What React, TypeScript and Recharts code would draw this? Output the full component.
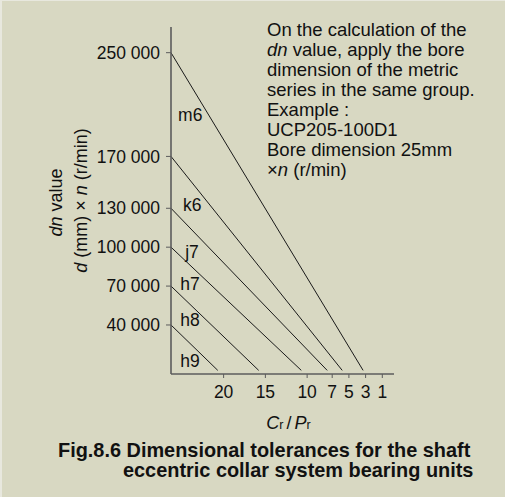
import { ComposedChart, Line, Scatter, XAxis, YAxis, Label } from 'recharts'

const crprTicks = [20, 15, 10, 7, 5, 3, 1]
const dnTicks = [250000, 170000, 130000, 100000, 70000, 40000]

// one line per shaft tolerance: dn value at the axis, down to the Cr/Pr where it runs out
const fits = ['m6', 'k6', 'j7', 'h7', 'h8', 'h9']
const startDn = [250000, 170000, 130000, 100000, 70000, 40000]
const endCrPr = [3.3, 5.8, 7.6, 10.7, 15.8, 20.7]
const leftCrPr = 26.3
const endDn = 5000

// where the fit names sit
const labelCrPr = [25.45, 24.85, 24.6, 25.2, 25.2, 25.2]
const labelDn = [197000, 128000, 92000, 67000, 39000, 7300]

const noteLines: Array<Array<[string, boolean]>> = [
  [['On the calculation of the', false]],
  [['dn', true], [' value, apply the bore', false]],
  [['dimension of the metric', false]],
  [['series in the same group.', false]],
  [['Example :', false]],
  [['UCP205-100D1', false]],
  [['Bore dimension 25mm', false]],
  [['\u00d7', false], ['n', true], [' (r/min)', false]],
]

const titleLines = ['Fig.8.6 Dimensional tolerances for the shaft', 'eccentric collar system bearing units']

const font = '"Liberation Sans", Arial, Helvetica, sans-serif'
const ink = '#111'
const axisGray = '#5c5c5c'

const series = fits.map((name, i) => ({
  name,
  data: [
    { x: leftCrPr, y: startDn[i] },
    { x: endCrPr[i], y: endDn },
  ],
}))

const labels = fits.map((name, i) => ({ name, x: labelCrPr[i], y: labelDn[i] }))

const fmtDn = (v: number) => String(v).replace(/\B(?=(\d{3})+(?!\d))/g, ' ')

function CrPrLabel(props: any) {
  const { x, y, width } = props.viewBox
  const cx = x + width / 2 + 6
  return (
    <text x={cx} y={y + 55} textAnchor="middle" fontFamily={font} fontSize={18} fill={ink}>
      <tspan fontStyle="italic">C</tspan>
      <tspan fontSize={12.5}>r</tspan>
      <tspan dx={3}>/</tspan>
      <tspan dx={3} fontStyle="italic">P</tspan>
      <tspan fontSize={12.5}>r</tspan>
    </text>
  )
}

function DnLabel(props: any) {
  const { x, y, width, height } = props.viewBox
  const axisX = x + width
  const cy = y + height / 2
  const x1 = axisX - 109
  const x2 = axisX - 84
  return (
    <g fontFamily={font} fontSize={18} fill={ink}>
      <text x={x1} y={cy + 2} textAnchor="middle" transform={`rotate(-90 ${x1} ${cy + 2})`}>
        <tspan fontStyle="italic">dn</tspan>
        <tspan> value</tspan>
      </text>
      <text x={x2} y={cy} textAnchor="middle" transform={`rotate(-90 ${x2} ${cy})`}>
        <tspan fontStyle="italic">d</tspan>
        <tspan> (mm) {'\u00d7'} </tspan>
        <tspan fontStyle="italic">n</tspan>
        <tspan> (r/min)</tspan>
      </text>
    </g>
  )
}

const FitName = (p: any) => (
  <text x={p.cx} y={p.cy} fontFamily={font} fontSize={17.5} fill={ink}>
    {p.payload.name}
  </text>
)

export default function App() {
  return (
    <div
      style={{
        position: 'fixed',
        left: 0,
        top: 0,
        width: 505,
        height: 497,
        boxSizing: 'border-box',
        background: '#d8d8c2',
        borderLeft: '2px solid #e8e8de',
        borderTop: '1px solid #e8e8de',
      }}
    >
      <div style={{ position: 'absolute', left: -2, top: -1 }}>
        <ComposedChart width={505} height={497} margin={{ top: 27, right: 111, bottom: 73, left: 111 }}>
          <XAxis
            type="number"
            dataKey="x"
            domain={[-0.4, 26.3]}
            reversed
            allowDataOverflow
            ticks={crprTicks}
            interval={0}
            height={50}
            tickSize={4}
            tickMargin={8}
            axisLine={{ stroke: axisGray, strokeWidth: 1.6 }}
            tickLine={{ stroke: axisGray }}
            tick={{ fill: ink, fontSize: 17.5, fontFamily: font }}
          >
            <Label content={CrPrLabel} />
          </XAxis>
          <YAxis
            type="number"
            dataKey="y"
            domain={[2200, 269800]}
            allowDataOverflow
            ticks={dnTicks}
            interval={0}
            width={60}
            tickSize={5}
            tickMargin={6}
            tickFormatter={fmtDn}
            axisLine={{ stroke: axisGray, strokeWidth: 1.6 }}
            tickLine={{ stroke: axisGray }}
            tick={{ fill: ink, fontSize: 17.5, fontFamily: font }}
          >
            <Label content={DnLabel} />
          </YAxis>
          {series.map((s) => (
            <Line
              key={s.name}
              data={s.data}
              dataKey="y"
              stroke="#1a1a1a"
              strokeWidth={1}
              dot={false}
              activeDot={false}
              isAnimationActive={false}
            />
          ))}
          <Scatter data={labels} dataKey="y" shape={FitName} isAnimationActive={false} />
        </ComposedChart>
      </div>
      <svg
        width={505}
        height={497}
        style={{ position: 'absolute', left: -2, top: -1, pointerEvents: 'none' }}
        fontFamily={font}
        fill={ink}
      >
        {noteLines.map((segs, i) => (
          <text key={i} x={267} y={35.7 + i * 20} fontSize={18.5}>
            {segs.map(([t, it], j) => (
              <tspan key={j} fontStyle={it ? 'italic' : 'normal'}>
                {t}
              </tspan>
            ))}
          </text>
        ))}
        <text x={58} y={457} fontSize={19.9} fontWeight="bold">
          {titleLines[0]}
        </text>
        <text x={123} y={477} fontSize={19.9} fontWeight="bold">
          {titleLines[1]}
        </text>
      </svg>
    </div>
  )
}
